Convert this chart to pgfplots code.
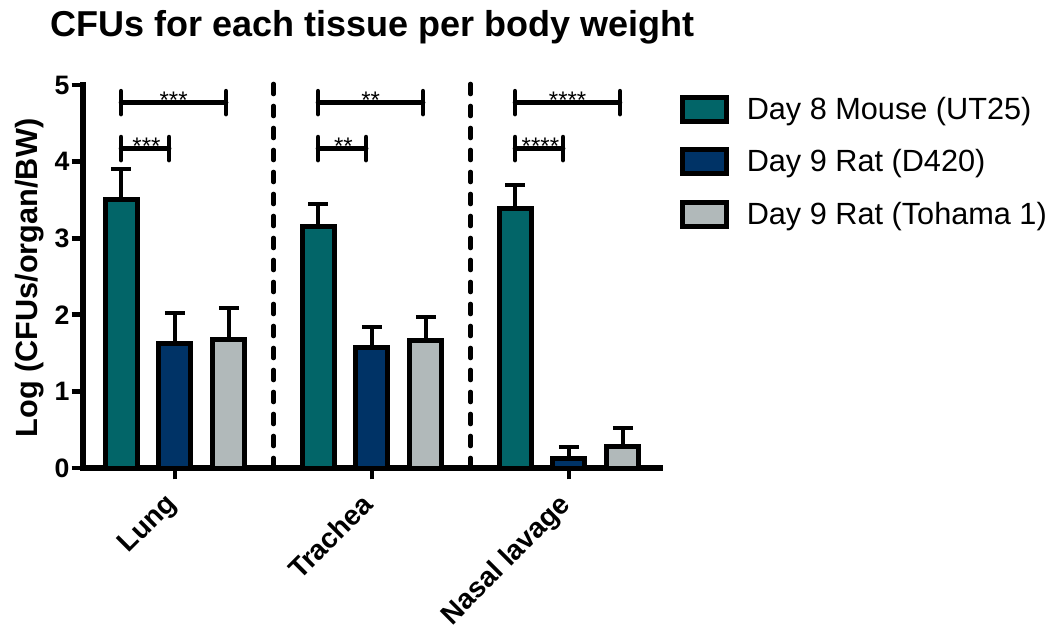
\documentclass[border=0pt]{standalone}
\usepackage{pgfplots}
\pgfplotsset{compat=1.18}
\usepackage{fontspec}
\setmainfont{Liberation Sans}
\definecolor{cteal}{RGB}{2,101,104}
\definecolor{cnavy}{RGB}{0,51,102}
\definecolor{cgray}{RGB}{177,185,186}
\pgfplotsset{
  mybar/.style={ybar, bar width=24pt, bar shift=0pt, draw=black, line width=3.75pt,
    legend image code/.code={\draw[##1] (0pt,-9pt) rectangle (33pt,9pt);},
    error bars/y dir=plus, error bars/y explicit,
    error bars/error bar style={line width=3pt, black, solid},
    error bars/error mark options={rotate=90, mark size=7.5pt, line width=3pt, black}},
}
% #1 left x, #2 long right x, #3 short right x, #4 long star x, #5 short star x, #6 stars
\newcommand{\sigbr}[6]{%
  \draw[line width=3.5pt, line cap=round] (axis cs:#1,4.77) -- (axis cs:#2,4.77);
  \draw[line width=3.5pt, line cap=round] (axis cs:#1,4.62) -- (axis cs:#1,4.92);
  \draw[line width=3.5pt, line cap=round] (axis cs:#2,4.62) -- (axis cs:#2,4.92);
  \node[anchor=base, inner sep=0pt, font=\fontsize{18}{18}\selectfont] at (axis cs:#4,4.695) {#6};
  \draw[line width=3.5pt, line cap=round] (axis cs:#1,4.17) -- (axis cs:#3,4.17);
  \draw[line width=3.5pt, line cap=round] (axis cs:#1,4.02) -- (axis cs:#1,4.32);
  \draw[line width=3.5pt, line cap=round] (axis cs:#3,4.02) -- (axis cs:#3,4.32);
  \node[anchor=base, inner sep=0pt, font=\fontsize{18}{18}\selectfont] at (axis cs:#5,4.095) {#6};
}
\begin{document}
\begin{tikzpicture}
\begin{axis}[
  at={(0,0)}, anchor=south west,
  scale only axis, width=432.75pt, height=287.25pt,
  xmin=-0.467, xmax=2.462, ymin=0, ymax=5,
  axis x line=bottom, axis y line=left,
  axis line style={-, line width=4pt, line cap=rect},
  xtick={0,1,2}, xticklabels={Lung,Trachea,Nasal lavage},
  ytick={0,1,2,3,4,5},
  tick align=outside, major tick length=8.5pt,
  every tick/.style={black, line width=3.5pt},
  /pgf/number format/assume math mode=true,
  yticklabel style={font=\fontsize{20}{20}\selectfont\bfseries, inner sep=1.5pt},
  xticklabel style={xshift=-8.5pt, yshift=-9pt, rotate=45, anchor=north east, inner sep=0pt,
    font=\fontsize{21}{21}\selectfont\bfseries},
  ylabel={Log (CFUs/organ/BW)},
  ylabel style={at={(axis description cs:-0.0676,0.496)}, anchor=south,
    inner sep=0pt, font=\fontsize{23}{23}\selectfont\bfseries},
  legend style={draw=none, fill=none, at={(axis description cs:1.035,0.975)},
    anchor=north west, font=\fontsize{23}{23}\selectfont, row sep=17pt,
    inner sep=0pt, /tikz/every odd column/.append style={column sep=11pt}},
  legend cell align=left,
  clip=false,
]
\addplot[mybar, fill=cteal] coordinates {
  (-0.274,3.50) +- (0,0.40)
  (0.726,3.15) +- (0,0.30)
  (1.726,3.39) +- (0,0.30)
};
\addplot[mybar, fill=cnavy] coordinates {
  (0,1.63) +- (0,0.39)
  (1,1.57) +- (0,0.27)
  (2,0.13) +- (0,0.14)
};
\addplot[mybar, fill=cgray] coordinates {
  (0.274,1.68) +- (0,0.41)
  (1.274,1.67) +- (0,0.30)
  (2.274,0.28) +- (0,0.24)
};
\legend{Day 8 Mouse (UT25), Day 9 Rat (D420), Day 9 Rat (Tohama 1)}
\addplot[forget plot, black, line width=3.5pt, line cap=round,
  dash pattern=on 7.5pt off 9pt] coordinates {(0.5,0) (0.5,5.04)};
\addplot[forget plot, black, line width=3.5pt, line cap=round,
  dash pattern=on 7.5pt off 9pt] coordinates {(1.5,0) (1.5,5.04)};
\sigbr{-0.274}{0.259}{-0.03}{-0.007}{-0.145}{***}
\sigbr{0.726}{1.259}{0.97}{0.993}{0.855}{**}
\sigbr{1.726}{2.259}{1.97}{1.993}{1.855}{****}
\end{axis}
\node[anchor=base west, inner sep=0pt, font=\fontsize{27}{27}\selectfont\bfseries]
  at (-24.75pt,323.25pt) {CFUs for each tissue per body weight};
\pgfresetboundingbox
\path[use as bounding box] (-62.25pt,-120.75pt) rectangle (730.5pt,351pt);
\end{tikzpicture}
\end{document}
